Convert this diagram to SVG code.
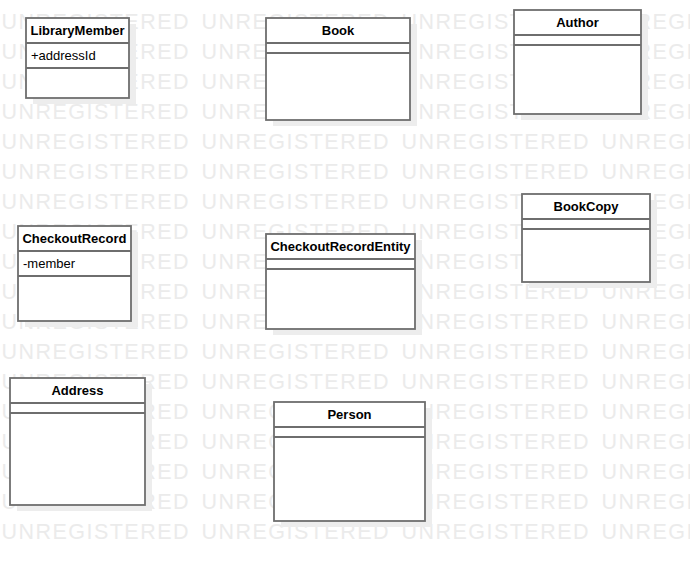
<svg xmlns="http://www.w3.org/2000/svg" width="690" height="561" viewBox="0 0 690 561">
<style>
.wm{font-family:"Liberation Sans",Arial,sans-serif;font-size:21.5px;fill:#ebebeb}
.sh{fill:#ededed}
.box{fill:#ffffff;stroke:#6e6e6e;stroke-width:1.8}
.div{stroke:#6e6e6e;stroke-width:1.8}
.t{font-family:"Liberation Sans",Arial,sans-serif;font-size:13px;font-weight:bold;fill:#000;text-anchor:middle}
.a{font-family:"Liberation Sans",Arial,sans-serif;font-size:13px;fill:#000}
</style>
<defs>
<text id="wm" class="wm" y="28.5"><tspan x="1.5" textLength="187" lengthAdjust="spacing">UNREGISTERED</tspan><tspan x="201.5" textLength="187" lengthAdjust="spacing">UNREGISTERED</tspan><tspan x="401.5" textLength="187" lengthAdjust="spacing">UNREGISTERED</tspan><tspan x="601.5" textLength="187" lengthAdjust="spacing">UNREGISTERED</tspan></text>
</defs>
<rect width="690" height="561" fill="#ffffff"/>
<g id="watermark">
<use href="#wm" y="0"/><use href="#wm" y="30"/><use href="#wm" y="60"/><use href="#wm" y="90"/><use href="#wm" y="120"/><use href="#wm" y="150"/><use href="#wm" y="180"/><use href="#wm" y="210"/><use href="#wm" y="240"/><use href="#wm" y="270"/><use href="#wm" y="300"/><use href="#wm" y="330"/><use href="#wm" y="360"/><use href="#wm" y="390"/><use href="#wm" y="420"/><use href="#wm" y="450"/><use href="#wm" y="480"/><use href="#wm" y="510"/>
</g>
<g id="connectors"></g>
<g id="LibraryMember">
<rect class="sh" x="33" y="24" width="103" height="80"/>
<rect class="box" x="26" y="18" width="103" height="80"/>
<line class="div" x1="26" y1="43" x2="129" y2="43"/>
<line class="div" x1="26" y1="68" x2="129" y2="68"/>
<text class="t" x="77.5" y="34.5">LibraryMember</text>
<text class="a" x="31" y="59.5">+addressId</text>
</g>
<g id="Book">
<rect class="sh" x="273" y="24" width="144" height="102"/>
<rect class="box" x="266" y="18" width="144" height="102"/>
<line class="div" x1="266" y1="43" x2="410" y2="43"/>
<line class="div" x1="266" y1="53" x2="410" y2="53"/>
<text class="t" x="338" y="34.5">Book</text>
</g>
<g id="Author">
<rect class="sh" x="521" y="16" width="127" height="104"/>
<rect class="box" x="514" y="10" width="127" height="104"/>
<line class="div" x1="514" y1="35" x2="641" y2="35"/>
<line class="div" x1="514" y1="45" x2="641" y2="45"/>
<text class="t" x="577.5" y="26.5">Author</text>
</g>
<g id="CheckoutRecord">
<rect class="sh" x="25" y="232" width="113" height="95"/>
<rect class="box" x="18" y="226" width="113" height="95"/>
<line class="div" x1="18" y1="251" x2="131" y2="251"/>
<line class="div" x1="18" y1="276" x2="131" y2="276"/>
<text class="t" x="74.5" y="242.5">CheckoutRecord</text>
<text class="a" x="23" y="267.5">-member</text>
</g>
<g id="CheckoutRecordEntity">
<rect class="sh" x="273" y="240" width="149" height="95"/>
<rect class="box" x="266" y="234" width="149" height="95"/>
<line class="div" x1="266" y1="259" x2="415" y2="259"/>
<line class="div" x1="266" y1="269" x2="415" y2="269"/>
<text class="t" x="340.5" y="250.5">CheckoutRecordEntity</text>
</g>
<g id="BookCopy">
<rect class="sh" x="529" y="200" width="128" height="88"/>
<rect class="box" x="522" y="194" width="128" height="88"/>
<line class="div" x1="522" y1="219" x2="650" y2="219"/>
<line class="div" x1="522" y1="229" x2="650" y2="229"/>
<text class="t" x="586" y="210.5">BookCopy</text>
</g>
<g id="Address">
<rect class="sh" x="17" y="384" width="135" height="127"/>
<rect class="box" x="10" y="378" width="135" height="127"/>
<line class="div" x1="10" y1="403" x2="145" y2="403"/>
<line class="div" x1="10" y1="413" x2="145" y2="413"/>
<text class="t" x="77.5" y="394.5">Address</text>
</g>
<g id="Person">
<rect class="sh" x="281" y="408" width="151" height="119"/>
<rect class="box" x="274" y="402" width="151" height="119"/>
<line class="div" x1="274" y1="427" x2="425" y2="427"/>
<line class="div" x1="274" y1="437" x2="425" y2="437"/>
<text class="t" x="349.5" y="418.5">Person</text>
</g>
</svg>
